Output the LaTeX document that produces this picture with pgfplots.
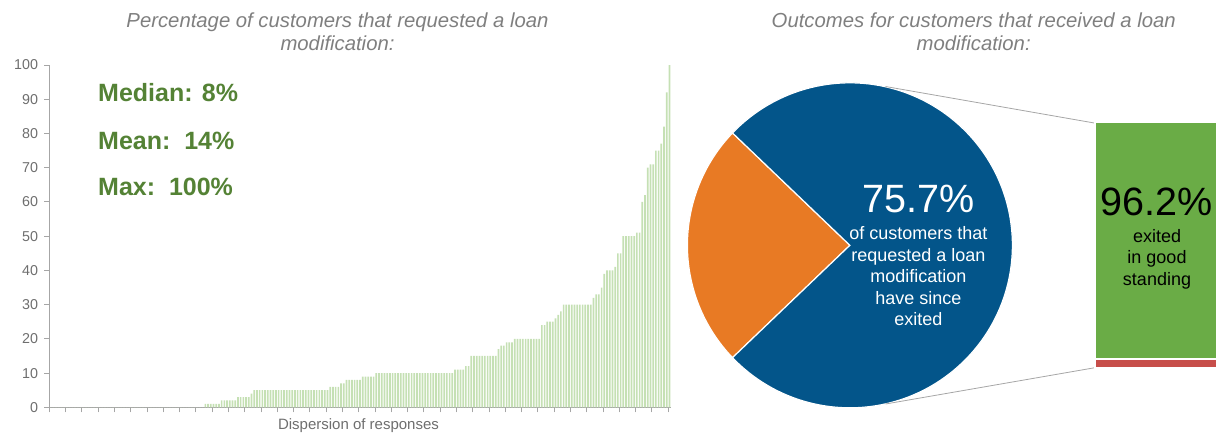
\documentclass[border=0pt]{standalone}
\usepackage{fontspec}
\setmainfont{Liberation Sans}
\usepackage{pgfplots}
\usepackage{pgfplotstable}
\pgfplotsset{compat=1.18}
\definecolor{barg}{HTML}{C5E0B4}
\definecolor{axgray}{HTML}{A6A6A6}
\definecolor{txtgray}{HTML}{7F7F7F}
\definecolor{tickgray}{HTML}{6E6E6E}
\definecolor{statg}{HTML}{548235}
\definecolor{pieblue}{HTML}{03558A}
\definecolor{pieorange}{HTML}{E87A24}
\definecolor{goodg}{HTML}{6AAC46}
\definecolor{badr}{HTML}{C74E4A}

% sorted responses: share of customers that requested a loan modification (%)
\pgfplotstableread[row sep=\\]{
v\\
0\\0\\0\\0\\0\\0\\0\\0\\0\\0\\0\\0\\0\\0\\0\\0\\0\\0\\0\\0\\
0\\0\\0\\0\\0\\0\\0\\0\\0\\0\\0\\0\\0\\0\\0\\0\\0\\0\\0\\0\\
0\\0\\0\\0\\0\\0\\0\\0\\0\\0\\0\\0\\0\\0\\0\\0\\0\\
1\\1\\1\\1\\1\\1\\
2\\2\\2\\2\\2\\2\\
3\\3\\3\\3\\3\\
4\\
5\\5\\5\\5\\5\\5\\5\\5\\5\\5\\5\\5\\5\\5\\5\\5\\5\\5\\5\\5\\5\\5\\5\\5\\5\\5\\5\\5\\
6\\6\\6\\6\\
7\\7\\
8\\8\\8\\8\\8\\8\\
9\\9\\9\\9\\9\\
10\\10\\10\\10\\10\\10\\10\\10\\10\\10\\10\\10\\10\\10\\10\\10\\10\\10\\10\\10\\10\\10\\10\\10\\10\\10\\10\\10\\10\\
11\\11\\11\\11\\
12\\12\\
15\\15\\15\\15\\15\\15\\15\\15\\15\\15\\
17\\
18\\18\\
19\\19\\19\\
20\\20\\20\\20\\20\\20\\20\\20\\20\\20\\
24\\24\\
25\\25\\25\\
26\\27\\28\\
30\\30\\30\\30\\30\\30\\30\\30\\30\\30\\30\\
32\\33\\33\\35\\39\\40\\40\\40\\41\\45\\45\\
50\\50\\50\\50\\50\\51\\51\\
60\\62\\70\\71\\71\\75\\75\\77\\82\\92\\100\\
}\dispersion

% outcomes
\pgfplotstableread[row sep=\\]{
slice share\\
exited 75.7\\
notexited 24.3\\
}\pietable

\begin{document}
\begin{tikzpicture}
\useasboundingbox (0pt,0pt) rectangle (1217pt,-432pt);

\pgfplotstablegetelem{0}{share}\of\pietable
\pgfmathsetmacro\halfang{\pgfplotsretval*3.6/2}
\pgfmathsetmacro\otherend{360-\halfang}

% ---------------- left: dispersion of responses ----------------
\begin{axis}[
  at={(49.3pt,-407.3pt)}, anchor=south west,
  scale only axis, width=621.5pt, height=342.3pt,
  xmin=-0.5, xmax=228.5, ymin=0, ymax=100,
  axis x line*=bottom, axis y line*=left,
  axis line style={draw=axgray, line width=0.9pt},
  tick style={draw=axgray, line width=0.9pt},
  tick align=outside, major tick length=5pt,
  xtick={-0.5,5.5,...,228.5}, xticklabels={},
  ytick={0,10,...,100},
  /pgf/number format/assume math mode=true,
  yticklabel style={font=\fontsize{14.3}{14.3}\selectfont, text=tickgray, inner sep=0pt, xshift=-6pt},
  clip=false,
]
\addplot[ybar, bar width=0.62, fill=barg, draw=none]
  table[x expr=\coordindex, y=v] {\dispersion};
\end{axis}

% ---------------- right: pie ----------------
\begin{axis}[
  at={(687.4pt,-407.8pt)}, anchor=south west,
  scale only axis, width=325pt, height=325pt,
  xmin=-1, xmax=1, ymin=-1, ymax=1, hide axis, clip=false,
]
\fill[pieorange, draw=white, line width=1.2pt] (axis cs:0,0) -- ++(\halfang:162.5pt)
   arc[start angle=\halfang, end angle=\otherend, radius=162.5pt] -- cycle;
\fill[pieblue, draw=white, line width=1.2pt] (axis cs:0,0) -- ++(-\halfang:162.5pt)
   arc[start angle=-\halfang, end angle=\halfang, radius=162.5pt] -- cycle;
\end{axis}

% connector lines
\draw[axgray, line width=0.8pt] (885.5pt,-86.5pt) -- (1096pt,-123.3pt);
\draw[axgray, line width=0.8pt] (885.5pt,-404pt) -- (1096pt,-367.5pt);

% ---------------- right: stacked bar ----------------
\begin{axis}[
  at={(1095pt,-368pt)}, anchor=south west,
  scale only axis, width=122pt, height=245.7pt,
  xmin=-0.5, xmax=0.5, ymin=0, ymax=100, hide axis,
  ybar stacked, bar width=122pt, clip=false,
]
\addplot[fill=badr, draw=white, line width=2pt] coordinates {(0,3.8)};
\addplot[fill=goodg, draw=white, line width=2pt] coordinates {(0,96.2)};
\end{axis}

% ---------------- texts ----------------
\begin{scope}[every node/.style={inner sep=0pt}]
\node[anchor=base, text=txtgray, font=\fontsize{20.3}{22}\selectfont\itshape] at (337.5pt,-27pt) {Percentage of customers that requested a loan};
\node[anchor=base, text=txtgray, font=\fontsize{20.3}{22}\selectfont\itshape] at (337.5pt,-50pt) {modification:};
\node[anchor=base, text=txtgray, font=\fontsize{20.3}{22}\selectfont\itshape] at (973.7pt,-27pt) {Outcomes for customers that received a loan};
\node[anchor=base, text=txtgray, font=\fontsize{20.3}{22}\selectfont\itshape] at (973.7pt,-50pt) {modification:};

\node[anchor=base west, text=statg, font=\fontsize{25}{25}\selectfont\bfseries] at (98pt,-101.5pt) {Median: 8\%};
\node[anchor=base west, text=statg, font=\fontsize{25}{25}\selectfont\bfseries] at (98pt,-149pt) {Mean:\ \ 14\%};
\node[anchor=base west, text=statg, font=\fontsize{25}{25}\selectfont\bfseries] at (98pt,-195.7pt) {Max:\ \ 100\%};

\node[anchor=base, text=tickgray, font=\fontsize{15}{15}\selectfont] at (358.5pt,-429pt) {Dispersion of responses};

\node[anchor=base, text=white, font=\fontsize{39.5}{39.5}\selectfont] at (918.3pt,-212.3pt) {75.7\%};
\foreach \t/\y in {of customers that/239.5, requested a loan/261, modification/282.5, have since/304, exited/325.5}
  \node[anchor=base, text=white, font=\fontsize{18}{18}\selectfont] at (918.4pt,-\y pt) {\t};

\node[anchor=base, text=black, font=\fontsize{39.5}{39.5}\selectfont] at (1156.3pt,-215pt) {96.2\%};
\foreach \t/\y in {exited/242, in good/263.5, standing/285}
  \node[anchor=base, text=black, font=\fontsize{18}{18}\selectfont] at (1157pt,-\y pt) {\t};
\end{scope}
\end{tikzpicture}
\end{document}
